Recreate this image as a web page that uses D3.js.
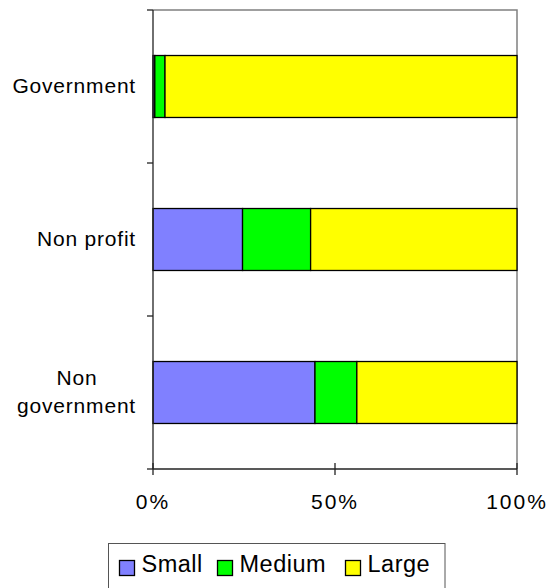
<!DOCTYPE html>
<html><head><meta charset="utf-8">
<script src="https://cdn.jsdelivr.net/npm/d3@7"></script>
<style>
html,body{margin:0;padding:0;background:#fff;}
svg{display:block;font-family:Arial,"Liberation Sans",sans-serif;}
</style></head>
<body>
<svg id="c" width="554" height="588"></svg>
<script>
const categories = ["Government", "Non profit", "Non government"];
const seriesNames = ["Small", "Medium", "Large"];
const seriesColors = ["#8080ff", "#00ff00", "#ffff00"];
const small  = [0.5, 24.6, 44.5];
const medium = [2.8, 18.7, 11.5];
const large  = [96.7, 56.7, 44.0];
const xTicks = [0, 50, 100];
const xTickLabels = ["0%", "50%", "100%"];

const svg = d3.select("#c");
const L = 153, R = 517, T = 10, B = 469;

const rows = categories.map((c, i) => ({cat: c, Small: small[i], Medium: medium[i], Large: large[i]}));
const stack = d3.stack().keys(seriesNames)(rows);

const x = d3.scaleLinear().domain([0, 100]).range([L, R]);
const y = d3.scaleBand().domain(categories).range([T, B]).paddingInner(0.595).paddingOuter(0.2975);

// plot border (top & right gray)
svg.append("path").attr("d", `M${L},${T}H${R}V${B}`).attr("fill", "none").attr("stroke", "#808080").attr("stroke-width", 1.5);

// bars
const g = svg.append("g");
stack.forEach((s, si) => {
  g.selectAll(null).data(s).enter().append("rect")
    .attr("x", d => x(d[0]))
    .attr("y", d => y(d.data.cat))
    .attr("width", d => x(d[1]) - x(d[0]))
    .attr("height", y.bandwidth())
    .attr("fill", seriesColors[si])
    .attr("stroke", "#000").attr("stroke-width", 1.3);
});

// y axis
const yEdges = d3.range(categories.length + 1).map(i => T + i * (B - T) / categories.length);
svg.append("line").attr("x1", L).attr("x2", L).attr("y1", T).attr("y2", B).attr("stroke", "#222").attr("stroke-width", 1.3);
svg.selectAll(null).data(yEdges).enter().append("line")
  .attr("x1", L - 6).attr("x2", L).attr("y1", d => d).attr("y2", d => d)
  .attr("stroke", "#222").attr("stroke-width", 1.3);

// category labels
const lab = svg.append("g").attr("font-size", 21).attr("fill", "#000").attr("text-anchor", "end").attr("letter-spacing", "0.8px");
categories.forEach(c => {
  const cy = y(c) + y.bandwidth() / 2;
  if (c === "Non government") {
    lab.append("text").attr("y", cy - 7.5).attr("text-anchor", "middle").attr("x", 77).text("Non");
    lab.append("text").attr("x", 136).attr("y", cy + 20.5).text("government");
  } else {
    lab.append("text").attr("x", 136).attr("y", cy + 6.5).text(c);
  }
});

// x axis
svg.append("line").attr("x1", L).attr("x2", R).attr("y1", B).attr("y2", B).attr("stroke", "#222").attr("stroke-width", 1.3);
svg.selectAll(null).data(xTicks).enter().append("line")
  .attr("x1", d => x(d)).attr("x2", d => x(d)).attr("y1", B - 6).attr("y2", B + 6)
  .attr("stroke", "#222").attr("stroke-width", 1.3);
svg.selectAll(null).data(xTicks).enter().append("text")
  .attr("x", d => x(d)).attr("y", 509).attr("text-anchor", "middle")
  .attr("font-size", 21).attr("letter-spacing", "2px")
  .text((d, i) => xTickLabels[i]);

// legend
svg.append("rect").attr("x", 108.5).attr("y", 543.5).attr("width", 336.5).attr("height", 60)
  .attr("fill", "#fff").attr("stroke", "#555").attr("stroke-width", 1);
const legX = [119.5, 217.5, 345.5];
seriesNames.forEach((n, i) => {
  svg.append("rect").attr("x", legX[i]).attr("y", 560.5).attr("width", 15).attr("height", 15)
    .attr("fill", seriesColors[i]).attr("stroke", "#000").attr("stroke-width", 1.3);
  svg.append("text").attr("x", legX[i] + 22).attr("y", 572).attr("font-size", 23.5)
    .attr("letter-spacing", "0.5px").text(n);
});
</script>
</body></html>
